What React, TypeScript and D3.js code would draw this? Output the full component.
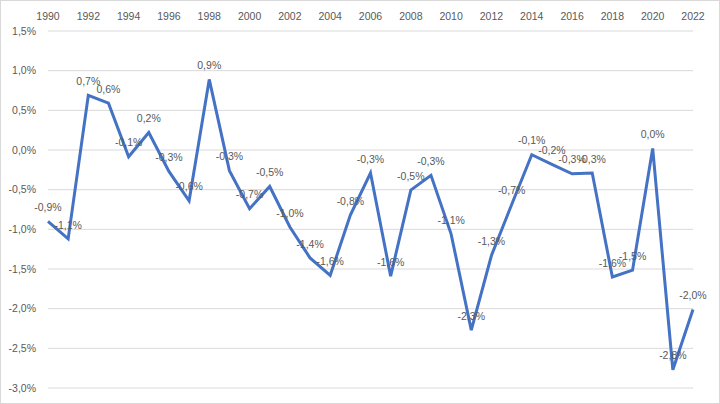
import React from "react";
import * as d3 from "d3";

const years: number[] = d3.range(1990, 2023);
const values: number[] = [
  -0.90, -1.12, 0.69, 0.59, -0.085, 0.22, -0.27, -0.64, 0.89, -0.26,
  -0.74, -0.46, -0.97, -1.36, -1.58, -0.82, -0.29, -1.59, -0.505, -0.32,
  -1.06, -2.27, -1.33, -0.69, -0.06, -0.18, -0.30, -0.29, -1.60, -1.515,
  0.02, -2.77, -2.01,
];
const yTicks: number[] = [1.5, 1.0, 0.5, 0.0, -0.5, -1.0, -1.5, -2.0, -2.5, -3.0];
const xTickYears: number[] = d3.range(1990, 2023, 2);

const W = 720;
const H = 404;
const fmt = (v: number) => v.toFixed(1).replace(".", ",") + "%";

export default function App() {
  const x = d3.scaleLinear().domain([1990, 2022]).range([48, 693]);
  const y = d3.scaleLinear().domain([1.5, -3.0]).range([31, 388]);
  const line = d3
    .line<number>()
    .x((_, i) => x(years[i]))
    .y((d) => y(d));
  const font = "'Liberation Sans', Arial, sans-serif";
  return (
    <svg
      width={W}
      height={H}
      style={{ position: "fixed", left: 0, top: 0, background: "#fff" }}
      fontFamily={font}
    >
      <rect x={0.5} y={0.5} width={W - 1} height={H - 1} fill="#fff" stroke="#d9d9d9" />
      {yTicks.map((t) => (
        <g key={t}>
          <line x1={48} x2={693} y1={y(t)} y2={y(t)} stroke="#d9d9d9" strokeWidth={1} />
          <text x={36} y={y(t)} dy="0.35em" textAnchor="end" fontSize={10.5} fill="#595959">
            {fmt(t)}
          </text>
        </g>
      ))}
      {xTickYears.map((yr) => (
        <text key={yr} x={x(yr)} y={16} dy="0.35em" textAnchor="middle" fontSize={10.5} fill="#595959">
          {yr}
        </text>
      ))}
      <path d={line(values) || ""} fill="none" stroke="#4472c4" strokeWidth={3} strokeLinejoin="miter" />
      {values.map((v, i) => (
        <text
          key={i}
          x={x(years[i])}
          y={y(v) - 14}
          dy="0.35em"
          textAnchor="middle"
          fontSize={10.5}
          fill="#595959"
        >
          {fmt(Math.abs(v) < 0.05 ? 0 : v)}
        </text>
      ))}
    </svg>
  );
}
